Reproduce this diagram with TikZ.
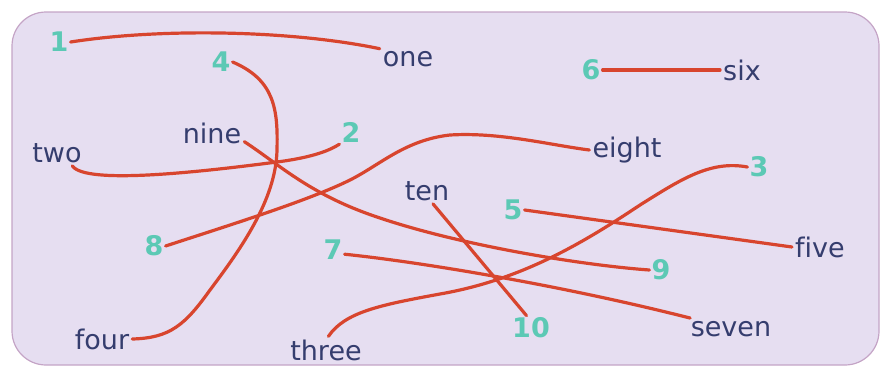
\documentclass[tikz,border=0pt]{standalone}
\usepackage{fontspec}
\setmainfont{DejaVu Sans}[Ligatures=NoCommon]
\usepackage{tikz}
\usepackage{xcolor}
\definecolor{wordcol}{HTML}{353D6E}
\definecolor{numcol}{HTML}{5CC9B5}
\definecolor{linecol}{HTML}{D8452E}
\definecolor{panelbg}{HTML}{E6DEF1}
\definecolor{panelrim}{HTML}{C4A4C6}
\tikzset{
    panel/.style={
        fill=panelbg, draw=panelrim, line width=1.2pt, rounded corners=34pt
    },
    word/.style={
        text=wordcol, inner sep=3pt, font=\fontsize{27}{32}\selectfont
    },
    num/.style={
        text=numcol, inner sep=2pt, font=\fontsize{27}{32}\selectfont\bfseries
    },
    match/.style={
        draw=linecol, line width=3.2pt, line cap=round
    }
}

\begin{document}
\begin{tikzpicture}[x=1pt, y=-1pt]

    \useasboundingbox (0,0) rectangle (880,367);
    \path[panel] (12,12) rectangle (879,365);

    % numbers
    \node[num] (n1)  at (59,42)   {1};
    \node[num] (n4)  at (221,62)  {4};
    \node[num] (n2)  at (351,132) {2};
    \node[num] (n6)  at (591,70)  {6};
    \node[num] (n3)  at (759,167) {3};
    \node[num] (n8)  at (154,246) {8};
    \node[num] (n5)  at (513,210) {5};
    \node[num] (n7)  at (333,250) {7};
    \node[num] (n9)  at (661,270) {9};
    \node[num] (n10) at (531,328) {10};

    % words
    \node[word] (one)   at (408,59)  {one};
    \node[word] (six)   at (742,70)  {six};
    \node[word] (two)   at (57,153)  {two};
    \node[word] (nine)  at (212,133) {nine};
    \node[word] (eight) at (627,150) {eight};
    \node[word] (ten)   at (427,191) {ten};
    \node[word] (five)  at (820,247) {five};
    \node[word] (seven) at (731,329) {seven};
    \node[word] (four)  at (102,339) {four};
    \node[word] (three) at (326,350) {three};

    % matching lines
    \draw[match] (n1.east) .. controls (160,28) and (290,30) .. (one.160);
    \draw[match] (n4.east) .. controls (275,80) and (278,110) .. (277,150)
        .. controls (276,200) and (240,250) .. (210,290)
        .. controls (185,325) and (170,338) .. (four.east);
    \draw[match] (two.-40) .. controls (85,185) and (200,172) .. (277,162)
        .. controls (315,157) and (330,150) .. (n2.south west);
    \draw[match] (n8.east) .. controls (230,225) and (310,200) .. (350,180)
        .. controls (380,165) and (405,140) .. (450,135)
        .. controls (500,132) and (550,145) .. (eight.west);
    \draw[match] (n6.east) -- (six.west);
    \draw[match] (n3.west) .. controls (710,160) and (680,180) .. (640,205)
        .. controls (580,245) and (520,280) .. (440,294)
        .. controls (380,305) and (345,312) .. (three.80);
    \draw[match] (nine.-15) .. controls (280,165) and (310,195) .. (380,218)
        .. controls (460,245) and (580,265) .. (n9.west);
    \draw[match] (ten.-65) -- (n10.110);
    \draw[match] (n5.east) -- (five.west);
    \draw[match] (n7.-20) .. controls (420,262) and (560,285) .. (seven.165);

\end{tikzpicture}
\end{document}
